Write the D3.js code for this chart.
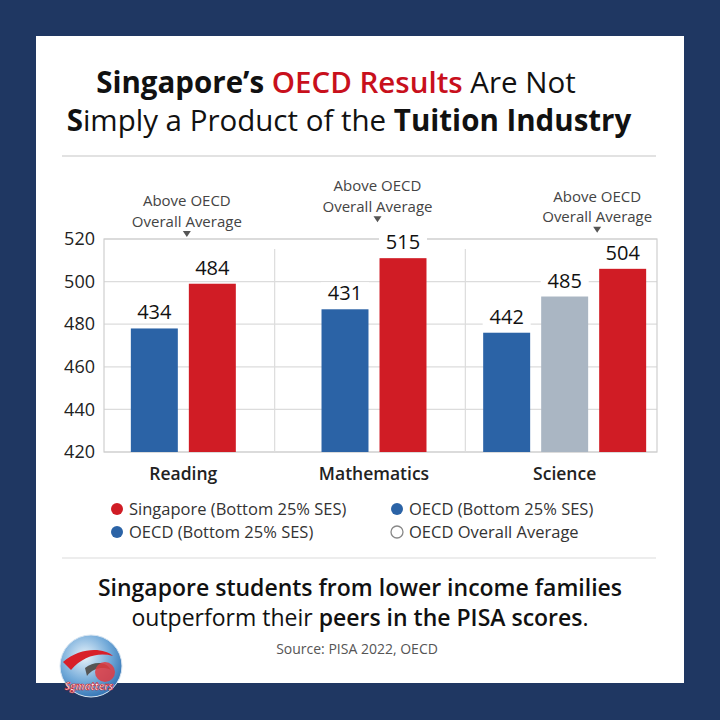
<!DOCTYPE html>
<html>
<head>
<meta charset="utf-8">
<script src="https://cdn.jsdelivr.net/npm/d3@7"></script>
<style>
  html, body { margin: 0; padding: 0; background: #1f3762; }
  svg { display: block; font-family: "Open Sans", "Noto Sans", sans-serif; }
</style>
</head>
<body>
<div id="chart"></div>
<script>
// data
const categories = ["Reading", "Mathematics", "Science"];
// bar heights as drawn against the axis
const oecdLowBars = [478, 487, 476];
const oecdAvgBars = [null, null, 493];
const sgLowBars = [499, 511, 506];
// numbers printed above the bars
const oecdLowLabels = [434, 431, 442];
const oecdAvgLabels = [null, null, 485];
const sgLowLabels = [484, 515, 504];
const yTicks = [420, 440, 460, 480, 500, 520];
const legendItems = [
  { name: "Singapore (Bottom 25% SES)", key: "sg" },
  { name: "OECD (Bottom 25% SES)", key: "oecdLow" },
  { name: "OECD (Bottom 25% SES)", key: "oecdLow" },
  { name: "OECD Overall Average", key: "avg" }
];
const annotationText = ["Above OECD", "Overall Average"];

const colors = { oecdLow: "#2b63a6", avg: "#aab6c3", sg: "#d01c25" };

const W = 720, H = 720;
const svg = d3.select("#chart").append("svg")
  .attr("width", W).attr("height", H);

// background + card
svg.append("rect").attr("width", W).attr("height", H).attr("fill", "#1f3762");
svg.append("rect").attr("x", 36).attr("y", 36).attr("width", 648).attr("height", 647).attr("fill", "#fff");

// title
const title = svg.append("text").attr("text-anchor", "middle").attr("font-size", 29.5).attr("fill", "#111");
const t1 = title.append("tspan").attr("x", 336).attr("y", 93);
t1.append("tspan").attr("font-weight", 700).text("Singapore’s ");
t1.append("tspan").attr("font-weight", 600).attr("fill", "#c8101c").text("OECD Results");
t1.append("tspan").attr("font-weight", 400).text(" Are Not");
const t2 = title.append("tspan").attr("x", 349).attr("y", 131);
t2.append("tspan").attr("font-weight", 700).text("S");
t2.append("tspan").attr("font-weight", 400).text("imply a Product of the ");
t2.append("tspan").attr("font-weight", 700).text("Tuition Industry");

svg.append("line").attr("x1", 62).attr("x2", 656).attr("y1", 156).attr("y2", 156)
  .attr("stroke", "#d8d8d8").attr("stroke-width", 1.5);

// chart area
const plot = { left: 104, right: 657, top: 239, bottom: 452 };
const y = d3.scaleLinear().domain([420, 520]).range([plot.bottom, plot.top]);
const x0 = d3.scaleBand().domain(categories).range([88, 660]);

// grid
svg.append("g").selectAll("line").data(yTicks).join("line")
  .attr("x1", plot.left).attr("x2", plot.right)
  .attr("y1", d => y(d)).attr("y2", d => y(d))
  .attr("stroke", "#dcdcdc").attr("stroke-width", 1.2);
svg.append("rect").attr("x", plot.left).attr("y", plot.top)
  .attr("width", plot.right - plot.left).attr("height", plot.bottom - plot.top)
  .attr("fill", "none").attr("stroke", "#cfcfcf").attr("stroke-width", 1.2);
svg.append("g").selectAll("line").data(categories.slice(1)).join("line")
  .attr("x1", d => x0(d) - 4).attr("x2", d => x0(d) - 4)
  .attr("y1", plot.top + 10).attr("y2", plot.bottom)
  .attr("stroke", "#dcdcdc").attr("stroke-width", 1.2);

// y axis
const yAxis = svg.append("g").attr("transform", `translate(${plot.left},0)`)
  .call(d3.axisLeft(y).tickValues(yTicks).tickSize(0).tickPadding(9));
yAxis.select(".domain").remove();
yAxis.selectAll("text").attr("font-size", 18).attr("fill", "#222")
  .attr("font-family", "Open Sans, sans-serif");

// bars
const groups = categories.map((c, i) => {
  const bars = [];
  if (oecdLowBars[i] != null) bars.push({ key: "oecdLow", v: oecdLowBars[i], label: oecdLowLabels[i] });
  if (oecdAvgBars[i] != null) bars.push({ key: "avg", v: oecdAvgBars[i], label: oecdAvgLabels[i] });
  if (sgLowBars[i] != null) bars.push({ key: "sg", v: sgLowBars[i], label: sgLowLabels[i] });
  const step = 58, half = (bars.length * step - step * 0.19) / 2;
  const x1 = d3.scaleBand().domain(bars.map(b => b.key)).range([-half, half]).paddingInner(0.19);
  const cx = x0(c) + x0.bandwidth() / 2;
  bars.forEach(b => { b.x = cx + x1(b.key); b.w = x1.bandwidth(); b.cat = c; });
  return { cat: c, bars };
});
const allBars = groups.flatMap(g => g.bars);

svg.append("g").selectAll("rect").data(allBars).join("rect")
  .attr("x", d => d.x).attr("width", d => d.w)
  .attr("y", d => y(d.v)).attr("height", d => plot.bottom - y(d.v))
  .attr("fill", d => colors[d.key]);

// value labels with a white backing
const vl = svg.append("g").selectAll("g").data(allBars).join("g")
  .attr("transform", d => `translate(${d.x + d.w / 2},${y(d.v) - 9})`);
vl.append("rect").attr("x", -24).attr("y", -18).attr("width", 48).attr("height", 21).attr("fill", "#fff");
vl.append("text").attr("text-anchor", "middle").attr("font-size", 20).attr("fill", "#111")
  .text(d => d.label);

// annotations over the Singapore bars
const ann = svg.append("g").selectAll("g").data(allBars.filter(d => d.key === "sg")).join("g")
  .attr("transform", d => `translate(${d.x - 2},${Math.min(y(d.v) - 36, plot.top - 2)})`);
ann.append("path").attr("d", "M-4,-6 L4,-6 L0,0 Z").attr("fill", "#555");
ann.selectAll("text").data(annotationText).join("text")
  .attr("text-anchor", "middle").attr("font-size", 15).attr("fill", "#444")
  .attr("y", (d, i) => -31 + i * 20.5)
  .text(d => d);

// category labels
svg.append("g").selectAll("text").data(groups).join("text")
  .attr("x", d => d3.mean(d.bars, b => b.x + b.w / 2))
  .attr("y", 480).attr("text-anchor", "middle")
  .attr("font-size", 17.5).attr("font-weight", 600).attr("fill", "#222")
  .text(d => d.cat);

// legend
const lg = svg.append("g").selectAll("g").data(legendItems).join("g")
  .attr("transform", (d, i) => `translate(${i % 2 === 0 ? 117 : 397},${509 + Math.floor(i / 2) * 23})`);
lg.append("circle").attr("r", 6)
  .attr("fill", d => d.key === "avg" ? "#fff" : colors[d.key])
  .attr("stroke", d => d.key === "avg" ? "#888" : "none").attr("stroke-width", 1.3);
lg.append("text").attr("x", 12).attr("dy", "0.35em").attr("font-size", 16.5).attr("fill", "#333")
  .text(d => d.name);

svg.append("line").attr("x1", 62).attr("x2", 656).attr("y1", 558).attr("y2", 558)
  .attr("stroke", "#dcdcdc").attr("stroke-width", 1.2);

// takeaway
const sub = svg.append("text").attr("text-anchor", "middle").attr("font-size", 23).attr("fill", "#111");
sub.append("tspan").attr("x", 360).attr("y", 596).attr("font-weight", 600)
  .text("Singapore students from lower income families");
const s2 = sub.append("tspan").attr("x", 360).attr("y", 626);
s2.append("tspan").attr("font-weight", 400).text("outperform their ");
s2.append("tspan").attr("font-weight", 600).text("peers in the PISA scores");
s2.append("tspan").attr("font-weight", 400).text(".");

svg.append("text").attr("x", 357).attr("y", 654).attr("text-anchor", "middle")
  .attr("font-size", 14).attr("fill", "#555").text("Source: PISA 2022, OECD");

// logo
const defs = svg.append("defs");
const grad = defs.append("radialGradient").attr("id", "globe").attr("cx", "40%").attr("cy", "35%").attr("r", "70%");
grad.append("stop").attr("offset", "0%").attr("stop-color", "#e8f3fb");
grad.append("stop").attr("offset", "60%").attr("stop-color", "#6fa8d8");
grad.append("stop").attr("offset", "100%").attr("stop-color", "#2f6fb0");
const logo = svg.append("g").attr("transform", "translate(91,666)");
logo.append("circle").attr("r", 31).attr("fill", "url(#globe)").attr("stroke", "#d9e6f2").attr("stroke-width", 1);
logo.append("path").attr("d", "M-28,-4 C-10,-20 14,-18 22,-10 C8,-14 -8,-10 -20,4 Z").attr("fill", "#d8202a");
logo.append("path").attr("d", "M-6,2 C4,-6 16,-4 20,4 C12,0 2,2 -4,10 Z").attr("fill", "#555");
logo.append("circle").attr("cx", 14).attr("cy", 6).attr("r", 10).attr("fill", "#e33a3f").attr("opacity", 0.85);
logo.append("text").attr("x", -2).attr("y", 24).attr("text-anchor", "middle")
  .attr("font-size", 10).attr("font-weight", 700).attr("font-style", "italic")
  .attr("fill", "#fff").attr("stroke", "#c8101c").attr("stroke-width", 0.6).text("Sgmatters");
</script>
</body>
</html>
